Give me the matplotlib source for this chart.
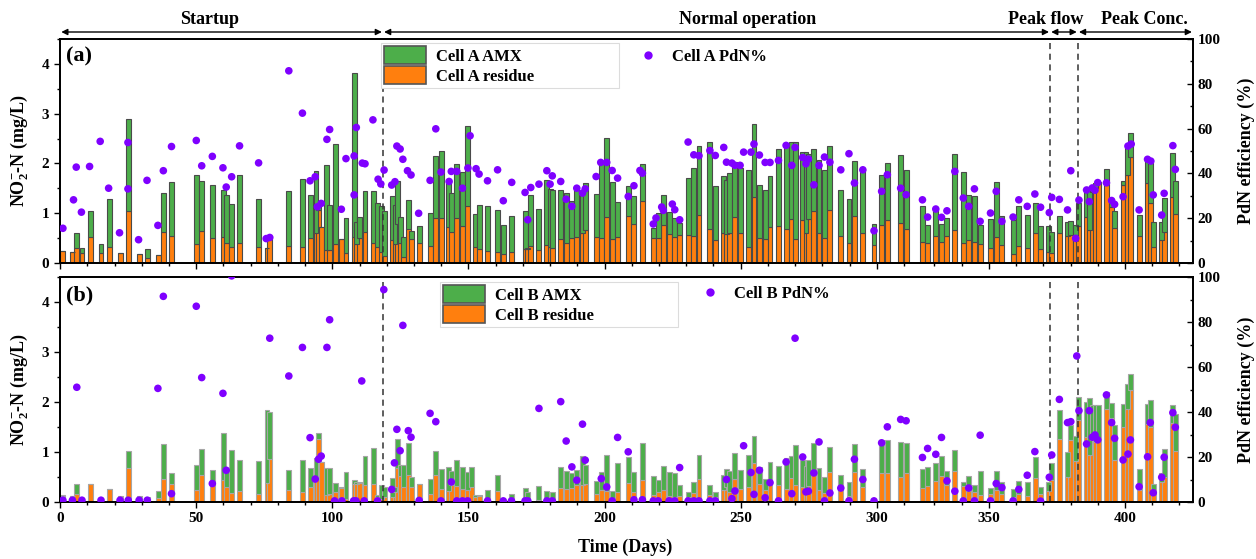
import matplotlib
matplotlib.use("Agg")
import numpy as np
import matplotlib.pyplot as plt
from matplotlib import transforms
from matplotlib.ticker import FixedLocator, MultipleLocator
from matplotlib.patches import Patch
from matplotlib.lines import Line2D

plt.rcParams["font.family"] = ["Liberation Serif", "DejaVu Serif"]
plt.rcParams["font.weight"] = "bold"
plt.rcParams["axes.labelweight"] = "bold"
plt.rcParams["mathtext.fontset"] = "custom"
plt.rcParams["mathtext.rm"] = "Liberation Serif:bold"
plt.rcParams["mathtext.it"] = "Liberation Serif:bold"
plt.rcParams["mathtext.bf"] = "Liberation Serif:bold"

# ---------------- data ----------------
days = [
    1, 4.5, 6, 8, 11, 15, 18, 22, 25, 29,
    32, 36, 38, 41, 50, 52, 56, 60, 61, 63,
    66, 73, 76, 77, 84, 89, 92, 94, 95, 96,
    98, 99, 101, 103.5, 105, 108, 109, 110, 112, 115,
    116.6, 118, 119, 122, 123, 124, 125, 126, 128, 129,
    132, 136, 138, 140, 142.7, 143.7, 145.7, 147.8, 149.8, 151,
    152.4, 154, 157, 160.7, 162.8, 165.8, 170.8, 171.8, 172.9, 175.9,
    178.8, 180, 181, 183.9, 185.9, 188, 189.8, 191.9, 192.9, 196.9,
    198.8, 200.8, 202.8, 204.8, 208.7, 210.8, 213.9, 217.9, 219.7, 221.6,
    223.7, 225.8, 227.6, 230.7, 232.8, 234.7, 238.7, 240.7, 243.8, 244.8,
    246, 247.9, 249.8, 252.8, 254.9, 256.9, 259, 260.8, 263.9, 266.7,
    268.7, 270, 272.8, 274, 274.9, 276.9, 278.8, 280.8, 282.8, 286.8,
    289.8, 291.8, 294.9, 299, 301.8, 303.9, 308.8, 310.8, 325.6, 327.5,
    330.5, 332.6, 334.6, 337.5, 340.6, 342.6, 344.7, 346.8, 350.6, 352.7,
    354.8, 358.9, 361, 364.1, 367, 369, 372, 373.1, 376, 378.9,
    380.1, 381.7, 383, 385.8, 386.9, 388, 389.2, 390.4, 393.2, 395.1,
    396.2, 399.3, 400.9, 402.1, 405.2, 408.3, 409.5, 410.4, 413.5, 414.4,
    417.6, 418.5,
]

cell_a_residue = [
    0.25, 0.22, 0.31, 0.21, 0.53, 0.20, 0.33, 0.20, 1.04, 0.18,
    0.11, 0.17, 0.62, 0.55, 0.39, 0.64, 0.50, 0.53, 0.40, 0.33,
    0.40, 0.33, 0.30, 0.54, 0.35, 0.33, 0.50, 0.60, 1.06, 0.72,
    0.27, 0.26, 0.38, 0.48, 0.21, 0.53, 0.38, 0.50, 0.63, 0.40,
    0.33, 0.23, 0.15, 0.46, 0.38, 0.78, 0.40, 0.13, 0.69, 0.48,
    0.40, 0.35, 0.90, 0.90, 0.72, 0.62, 0.90, 0.74, 1.14, 0.00,
    0.33, 0.29, 0.25, 0.22, 0.19, 0.23, 0.28, 0.28, 0.35, 0.27,
    0.37, 0.32, 0.30, 0.48, 0.41, 0.50, 0.53, 0.60, 0.67, 0.52,
    0.50, 0.92, 0.48, 0.52, 0.94, 0.79, 1.25, 0.50, 0.50, 0.77,
    0.59, 0.52, 0.57, 0.57, 0.55, 0.97, 0.68, 0.47, 0.60, 0.58,
    0.60, 0.92, 0.60, 0.33, 1.32, 0.50, 0.48, 0.72, 0.75, 0.69,
    0.88, 0.48, 0.87, 0.60, 0.89, 1.04, 0.60, 0.50, 1.07, 0.54,
    0.40, 0.94, 0.60, 0.37, 0.77, 0.86, 0.80, 0.69, 0.42, 0.40,
    0.54, 0.43, 0.54, 0.67, 0.41, 0.47, 0.42, 0.38, 0.31, 0.52,
    0.37, 0.19, 0.35, 0.30, 0.60, 0.28, 0.23, 0.20, 0.60, 0.55,
    0.57, 0.56, 0.74, 0.93, 0.66, 1.43, 1.50, 1.60, 1.57, 1.13,
    0.70, 1.57, 1.77, 2.12, 0.54, 1.61, 1.20, 0.33, 0.46, 0.63,
    1.32, 0.98,
]

cell_a_amx = [
    0.00, 0.00, 0.29, 0.09, 0.52, 0.18, 0.96, 0.00, 1.86, 0.00,
    0.18, 0.00, 0.79, 1.07, 1.38, 1.01, 1.06, 0.94, 0.97, 0.85,
    1.37, 0.96, 0.00, 0.00, 1.09, 1.35, 0.86, 1.25, 0.08, 0.00,
    1.70, 0.90, 2.02, 0.00, 0.69, 3.29, 0.45, 0.42, 0.82, 1.05,
    0.87, 0.91, 0.90, 0.89, 0.78, 0.87, 0.52, 0.39, 0.57, 0.17,
    0.35, 0.65, 1.25, 1.36, 0.90, 0.78, 1.09, 1.08, 1.62, 0.00,
    0.66, 0.88, 0.90, 0.85, 0.58, 0.71, 0.77, 0.02, 1.02, 0.81,
    1.30, 1.17, 1.17, 0.99, 0.99, 0.74, 0.94, 0.85, 0.93, 0.86,
    1.50, 1.59, 1.14, 0.70, 0.60, 0.55, 0.74, 0.20, 0.50, 0.60,
    0.43, 0.38, 0.23, 1.14, 1.36, 1.38, 1.76, 1.07, 1.14, 1.08,
    1.20, 1.11, 1.31, 1.54, 1.47, 1.07, 0.99, 1.02, 1.54, 1.67,
    1.55, 1.95, 1.36, 1.63, 1.30, 1.25, 1.47, 1.36, 1.28, 0.93,
    0.88, 1.10, 1.26, 0.42, 0.99, 1.14, 1.36, 1.18, 0.72, 0.36,
    0.52, 0.35, 0.36, 1.52, 1.42, 0.90, 0.93, 0.38, 0.57, 1.11,
    0.57, 0.68, 0.80, 0.67, 0.61, 0.47, 0.51, 0.42, 0.34, 0.27,
    0.27, 0.20, 0.47, 0.58, 0.87, 0.14, 0.10, 0.03, 0.31, 0.15,
    0.35, 0.08, 0.56, 0.49, 0.42, 0.49, 0.83, 0.50, 0.37, 0.67,
    0.88, 0.67,
]

cell_b_residue = [
    0.13, 0.12, 0.17, 0.06, 0.36, 0.07, 0.26, 0.10, 0.68, 0.08,
    0.05, 0.09, 0.46, 0.37, 0.24, 0.55, 0.35, 0.45, 0.30, 0.18,
    0.22, 0.16, 0.38, 0.86, 0.24, 0.21, 0.31, 0.47, 1.27, 0.81,
    0.14, 0.17, 0.21, 0.29, 0.07, 0.37, 0.37, 0.38, 0.34, 0.36,
    0.10, 0.07, 0.10, 0.10, 0.20, 0.69, 0.53, 0.30, 0.55, 0.31,
    0.36, 0.17, 0.55, 0.26, 0.22, 0.35, 0.32, 0.26, 0.25, 0.30,
    0.10, 0.13, 0.03, 0.23, 0.03, 0.05, 0.05, 0.05, 0.00, 0.04,
    0.03, 0.00, 0.03, 0.28, 0.26, 0.28, 0.35, 0.35, 0.36, 0.17,
    0.25, 0.22, 0.08, 0.20, 0.39, 0.20, 0.45, 0.15, 0.20, 0.25,
    0.12, 0.10, 0.13, 0.10, 0.18, 0.47, 0.15, 0.10, 0.25, 0.30,
    0.20, 0.47, 0.27, 0.30, 0.78, 0.36, 0.24, 0.40, 0.35, 0.27,
    0.48, 0.35, 0.30, 0.25, 0.33, 0.60, 0.25, 0.19, 0.60, 0.24,
    0.12, 0.60, 0.30, 0.02, 0.58, 0.58, 0.50, 0.58, 0.28, 0.33,
    0.43, 0.52, 0.35, 0.62, 0.33, 0.22, 0.20, 0.14, 0.16, 0.25,
    0.17, 0.10, 0.17, 0.13, 0.49, 0.16, 0.22, 0.44, 1.27, 0.50,
    1.25, 0.83, 1.64, 1.31, 0.94, 1.24, 1.20, 1.27, 1.87, 1.69,
    0.84, 1.51, 1.87, 2.24, 0.24, 1.57, 1.50, 0.17, 0.41, 0.50,
    1.59, 1.03,
]

cell_b_amx = [
    0.02, 0.00, 0.20, 0.02, 0.01, 0.01, 0.01, 0.03, 0.34, 0.04,
    0.05, 0.13, 0.70, 0.22, 0.50, 0.52, 0.30, 0.93, 0.32, 0.86,
    0.62, 0.67, 1.46, 0.94, 0.40, 0.63, 0.38, 0.42, 0.12, 0.00,
    0.55, 0.52, 0.18, 0.02, 0.54, 0.08, 0.03, 0.03, 0.58, 0.73,
    0.04, 0.27, 0.21, 0.39, 0.10, 0.58, 0.21, 0.44, 0.64, 0.20,
    0.00, 0.30, 0.48, 0.40, 0.49, 0.27, 0.52, 0.44, 0.35, 0.40,
    0.05, 0.01, 0.22, 0.32, 0.02, 0.12, 0.23, 0.15, 0.00, 0.29,
    0.20, 0.00, 0.17, 0.42, 0.36, 0.31, 0.29, 0.57, 0.39, 0.25,
    0.35, 0.73, 0.15, 0.58, 0.51, 0.40, 0.73, 0.37, 0.25, 0.48,
    0.48, 0.48, 0.22, 0.10, 0.22, 0.48, 0.20, 0.10, 0.30, 0.37,
    0.43, 0.52, 0.38, 0.65, 0.55, 0.34, 0.23, 0.40, 0.37, 0.62,
    0.44, 0.80, 0.55, 0.47, 0.52, 0.58, 0.43, 0.31, 0.50, 0.31,
    0.28, 0.56, 0.36, 0.01, 0.67, 0.67, 0.70, 0.60, 0.38, 0.37,
    0.35, 0.41, 0.27, 0.43, 0.07, 0.30, 0.15, 0.48, 0.12, 0.37,
    0.23, 0.17, 0.26, 0.27, 0.42, 0.15, 0.18, 0.35, 0.58, 0.50,
    0.29, 0.49, 0.46, 0.69, 1.15, 0.71, 0.75, 0.68, 0.34, 0.30,
    0.70, 0.45, 0.50, 0.33, 0.43, 0.39, 0.55, 0.20, 0.18, 0.57,
    0.35, 0.73,
]

pdn_a_days = [
    1, 4.9, 5.9, 7.8, 10.8, 14.7, 17.8, 21.8, 24.9, 24.9,
    28.8, 31.9, 35.9, 37.9, 40.9, 50, 52, 55.9, 59.8, 61,
    63, 65.9, 72.9, 75.7, 77, 84, 89, 91.8, 93.7, 94.5,
    95.9, 98, 99, 103.3, 105, 108, 108, 108.8, 111, 112,
    114.9, 116.8, 117.8, 119, 121.8, 123, 123.7, 124.9, 125.9, 127.6,
    128.9, 131.7, 135.9, 138, 139.9, 142.9, 143.7, 145.7, 147.8, 149.8,
    150.6, 152.8, 153.9, 157, 160.7, 162.8, 165.9, 170.8, 171.8, 172.9,
    175.9, 178.8, 180, 180.8, 183.9, 185.9, 188, 189.8, 191.9, 192.9,
    196.9, 198.6, 200.8, 202.8, 204.8, 208.7, 210.8, 213, 213.9, 217.9,
    218.9, 221, 221.6, 224.9, 225.8, 227.6, 230.7, 232.8, 234.7, 238.7,
    240.7, 243.8, 244.8, 246.8, 247.9, 249.8, 251.1, 253.8, 254.9, 256.9,
    259, 260.8, 263.9, 266.7, 268.8, 270, 272.8, 274, 274.9, 276.9,
    278.8, 280.8, 282.8, 286.8, 289.8, 291.8, 294.9, 299, 301.8, 303.9,
    308.8, 310.8, 325.6, 327.5, 330.5, 332.6, 334.6, 337.5, 340.6, 342.6,
    344.7, 346.8, 350.6, 352.7, 354.8, 358.9, 361, 364.1, 366.9, 369,
    372.2, 373.1, 375.9, 378.9, 380.1, 381.9, 383.1, 385.9, 386.9, 388,
    389, 390, 393.2, 395.1, 396.2, 399.3, 401.1, 402.3, 405.2, 408.3,
    409.5, 410.4, 413.5, 414.4, 417.6, 418.5,
]

pdn_a = [
    15.5, 28.2, 42.8, 22.7, 43.1, 54.3, 33.4, 13.5, 53.8, 33.1,
    10.4, 36.9, 16.8, 41.2, 52.0, 54.7, 43.4, 47.6, 42.5, 33.9,
    38.5, 52.3, 44.7, 10.9, 11.4, 85.8, 66.9, 36.7, 38.5, 25.1,
    26.6, 55.2, 59.6, 24.0, 46.6, 47.8, 30.4, 60.5, 44.6, 44.3,
    63.9, 37.4, 35.3, 41.5, 34.8, 36.3, 52.2, 50.9, 46.3, 41.2,
    39.3, 22.2, 36.9, 59.9, 40.6, 36.4, 40.9, 40.9, 33.4, 42.4,
    56.8, 42.1, 39.7, 36.7, 41.6, 27.8, 36.0, 31.5, 19.3, 33.7,
    35.2, 41.2, 35.2, 38.9, 36.4, 28.5, 25.3, 33.4, 31.2, 33.1,
    38.6, 44.9, 44.9, 41.3, 37.9, 29.7, 34.5, 41.3, 40.1, 17.4,
    20.1, 25.0, 23.5, 26.3, 23.8, 19.3, 54.0, 48.3, 47.9, 50.2,
    48.0, 51.6, 45.0, 44.6, 43.6, 43.6, 49.5, 49.5, 53.1, 48.2,
    44.9, 44.9, 45.8, 52.5, 43.6, 51.6, 47.1, 44.3, 46.4, 34.9,
    43.6, 47.3, 45.0, 41.6, 48.8, 35.7, 41.6, 14.4, 32.0, 39.4,
    33.4, 30.5, 28.2, 20.5, 24.1, 20.4, 23.3, 40.9, 29.0, 25.3,
    33.1, 18.6, 22.3, 32.0, 18.6, 20.5, 28.2, 25.3, 30.8, 24.9,
    22.5, 29.3, 28.4, 23.7, 41.2, 11.0, 28.1, 32.6, 27.4, 33.5,
    32.5, 35.9, 35.8, 27.9, 26.2, 29.6, 52.2, 53.1, 23.7, 46.3,
    45.5, 30.4, 21.4, 31.1, 52.4, 41.8,
]

pdn_b_days = [
    1, 4.5, 6.1, 8, 15, 22, 25, 29, 32, 35.9,
    37.9, 40.9, 50, 52, 55.9, 59.8, 61, 63, 77, 84,
    89, 91.8, 93.7, 94.9, 95.9, 98, 99, 100.8, 103.5, 107.8,
    108.7, 110.8, 111.7, 116.6, 118.9, 121.8, 122.8, 123.7, 124.9, 125.9,
    127.9, 128.9, 131.9, 135.9, 138, 139.9, 143.7, 145.7, 147.8, 149.7,
    157, 162.8, 165.8, 170.8, 171.8, 175.9, 178.8, 180.8, 183.9, 185.9,
    188, 189.8, 191.9, 192.9, 198.8, 200.8, 202.8, 204.8, 208.7, 210.8,
    213.9, 217.9, 219.7, 223.7, 225.8, 227.6, 230.7, 232.8, 234.7, 238.7,
    240.7, 244.8, 246.8, 247.9, 251.1, 253.8, 254.9, 256.9, 259, 260.8,
    263.9, 266.7, 268.8, 270, 272.8, 274, 274.9, 276.9, 278.8, 280.8,
    282.8, 286.8, 289.8, 291.8, 294.9, 299, 301.8, 303.9, 308.8, 310.8,
    325.6, 327.5, 330.5, 332.6, 334.6, 337.5, 340.6, 342.6, 344.7, 346.8,
    350.6, 352.7, 354.8, 358.9, 361, 364.1, 366.9, 369, 372.2, 373.1,
    375.9, 378.9, 380.1, 382.3, 383.1, 385.9, 386.9, 388, 389, 390,
    393.2, 395.1, 396.2, 399.3, 401.1, 402, 405.2, 408.3, 409.3, 410.4,
    413.5, 414.4, 417.6, 418.5,
]

pdn_b = [
    0.8, 0.8, 51.0, 0.8, 0.8, 0.8, 0.8, 0.8, 0.8, 50.5,
    91.4, 3.7, 87.0, 55.3, 8.2, 48.3, 14.1, 100.5, 72.8, 56.0,
    68.7, 28.6, 10.2, 19.0, 20.4, 68.7, 81.0, 0.5, 0.5, 0.5,
    0.5, 53.8, 0.5, 0.5, 94.4, 5.6, 17.4, 32.3, 22.8, 78.5,
    31.7, 28.8, 0.7, 39.4, 35.7, 0.5, 8.9, 0.5, 0.5, 0.5,
    0.5, 0.5, 0.5, 0.5, 0.5, 41.6, 0.5, 0.5, 44.6, 27.1,
    15.6, 9.7, 34.6, 18.6, 10.4, 6.7, 0.5, 28.7, 22.3, 1.0,
    1.0, 0.5, 0.5, 0.5, 0.5, 15.3, 0.5, 0.5, 0.5, 0.5,
    0.5, 10.0, 1.5, 4.9, 25.0, 13.1, 3.4, 14.1, 1.9, 8.6,
    0.5, 17.8, 3.7, 72.8, 20.0, 4.5, 4.8, 12.9, 26.7, 0.5,
    4.0, 6.2, 0.5, 19.0, 10.0, 0.5, 26.3, 33.4, 36.7, 36.1,
    19.8, 23.8, 21.2, 28.7, 9.4, 4.8, 0.5, 6.2, 0.5, 29.7,
    0.5, 8.2, 6.4, 0.5, 5.6, 11.9, 22.4, 0.4, 11.0, 20.9,
    45.6, 35.3, 35.7, 64.9, 40.6, 25.8, 40.6, 28.8, 29.8, 27.6,
    47.6, 35.3, 28.3, 18.7, 21.3, 27.6, 6.8, 20.1, 35.3, 4.1,
    11.0, 19.9, 39.7, 33.2,
]

phase_names = ["Startup", "Normal operation", "Peak flow", "Peak Conc."]
phase_bounds = [0, 118.6, 372.5, 382.7, 425]

# ---------------- styling ----------------
GREEN = "#4dae4a"
ORANGE = "#ff7f0e"
PURPLE = "#7f00ff"
BAR_W = 1.8

# The day axis is cut between ~313 and ~322 days (no sampling there).
CUT_START, CUT_END = 313.4, 322.2
CUT_LEN = CUT_END - CUT_START


def fwd(x):
    x = np.asarray(x, dtype=float)
    return np.where(x <= CUT_START, x,
                    np.where(x >= CUT_END, x - CUT_LEN, CUT_START))


def inv(u):
    u = np.asarray(u, dtype=float)
    return np.where(u <= CUT_START, u, u + CUT_LEN)


W, H = 1256, 559
fig = plt.figure(figsize=(W / 100, H / 100), dpi=100)
left, right = 59.5 / W, 1193 / W
ax_a = fig.add_axes([left, 1 - 263 / H, right - left, (263 - 39) / H])
ax_b = fig.add_axes([left, 1 - 502 / H, right - left, (502 - 277) / H])

minor_days = [d for d in range(0, 430, 10) if d % 50 and d != 320]


def draw_panel(ax, amx, residue, pdn_days, pdn, edge, letter, label_a, label_r,
               label_p, leg_box, pdn_anchor, show_xlabels):
    ax.set_xscale("function", functions=(fwd, inv))
    ax.bar(days, residue, width=BAR_W, color=ORANGE, edgecolor=edge,
           linewidth=0.8, zorder=2)
    ax.bar(days, amx, bottom=residue, width=BAR_W, color=GREEN,
           edgecolor=edge, linewidth=0.8, zorder=2)
    ax.set_xlim(-0.25, 425)
    ax.set_ylim(0, 4.5)
    for d in phase_bounds[1:4]:
        ax.axvline(d, color="#333333", lw=1.1, ls=(0, (4, 3)), zorder=3)

    ax.xaxis.set_major_locator(FixedLocator(range(0, 401, 50)))
    ax.xaxis.set_minor_locator(FixedLocator(minor_days))
    ax.yaxis.set_major_locator(MultipleLocator(1))
    ax.yaxis.set_minor_locator(MultipleLocator(0.5))
    ax.tick_params(axis="both", which="major", direction="out", length=4,
                   width=1, labelsize=11)
    ax.tick_params(axis="both", which="minor", direction="out", length=2.5,
                   width=1)
    if not show_xlabels:
        ax.tick_params(axis="x", labelbottom=False)
    for s in ax.spines.values():
        s.set_linewidth(1.3)

    ax.set_ylabel("NO$_2^{-}$-N (mg/L)", fontsize=13, fontweight="bold")
    ax.yaxis.set_label_coords(-0.026, 0.5)

    axr = ax.twinx()
    axr.scatter(pdn_days, pdn, s=30, color=PURPLE, edgecolors="none",
                zorder=4)
    axr.set_ylim(0, 100)
    axr.yaxis.set_major_locator(MultipleLocator(20))
    axr.yaxis.set_minor_locator(MultipleLocator(10))
    axr.tick_params(axis="y", which="major", direction="in", length=4,
                    width=1, labelsize=11)
    axr.tick_params(axis="y", which="minor", direction="in", length=2.5,
                    width=1)
    axr.set_ylabel("PdN efficiency (%)", fontsize=13, fontweight="bold")
    axr.yaxis.set_label_coords(1.039, 0.5)
    for s in axr.spines.values():
        s.set_linewidth(1.3)

    ax.text(0.006, 0.92, letter, transform=ax.transAxes, fontsize=16,
            fontweight="bold", va="center", ha="left")

    bx, by, bw, bh = leg_box
    handles = [Patch(facecolor=GREEN, edgecolor="#555555", linewidth=1.2),
               Patch(facecolor=ORANGE, edgecolor="#555555", linewidth=1.2)]
    leg = axr.legend(handles, [label_a, label_r], loc="upper left",
                     bbox_to_anchor=(bx / W, 1 - by / H, bw / W, bh / H),
                     bbox_transform=fig.transFigure, mode="expand",
                     frameon=True, fancybox=False, framealpha=1,
                     edgecolor="#dcdcdc", fontsize=12, borderpad=0.2,
                     handlelength=2.5, handleheight=1.25, handletextpad=0.6,
                     labelspacing=0.1, borderaxespad=0)
    leg.get_frame().set_linewidth(0.8)
    axr.add_artist(leg)

    marker = Line2D([], [], ls="none", marker="o", markersize=6,
                    markerfacecolor=PURPLE, markeredgecolor="none")
    axr.legend([marker], [label_p], loc="center left",
               bbox_to_anchor=(pdn_anchor[0] / W, 1 - pdn_anchor[1] / H),
               bbox_transform=fig.transFigure, frameon=False, fontsize=12,
               handlelength=1.0, handletextpad=0.9, borderaxespad=0,
               borderpad=0)
    return axr


draw_panel(ax_a, cell_a_amx, cell_a_residue, pdn_a_days, pdn_a, "#4a4a4a",
           "(a)", "Cell A AMX", "Cell A residue", "Cell A PdN%",
           (381, 94, 238, 51), (640, 57), False)
draw_panel(ax_b, cell_b_amx, cell_b_residue, pdn_b_days, pdn_b, "#a6a6a6",
           "(b)", "Cell B AMX", "Cell B residue", "Cell B PdN%",
           (440, 330, 238, 48), (702, 294), True)

fig.text(625 / W, 1 - 547 / H, "Time (Days)", fontsize=13,
         fontweight="bold", ha="center", va="center")

# Phase arrows across the top
trans = transforms.blended_transform_factory(ax_a.transData, fig.transFigure)
arrow_y = 1 - 32 / H
text_y = 1 - 20 / H
for name, x0, x1 in zip(phase_names, phase_bounds[:-1], phase_bounds[1:]):
    pad = 0.4
    ax_a.annotate("", xy=(x1 - pad, arrow_y), xytext=(x0 + pad, arrow_y),
                  xycoords=trans, textcoords=trans, annotation_clip=False,
                  arrowprops=dict(arrowstyle="<|-|>", color="black", lw=1.0,
                                  mutation_scale=9, shrinkA=0, shrinkB=0))
text_pos = [(210, "Startup"), (748, "Normal operation"),
            (1046, "Peak flow"), (1144, "Peak Conc.")]
for xpix, name in text_pos:
    fig.text(xpix / W, text_y, name, fontsize=13, fontweight="bold",
             ha="center", va="center")

fig.savefig("out.png", dpi=100)
